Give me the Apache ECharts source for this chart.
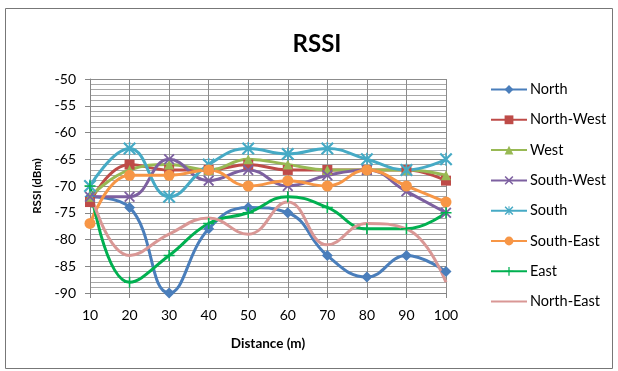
<!DOCTYPE html>
<html><head><meta charset="utf-8">
<script src="https://cdn.jsdelivr.net/npm/echarts@6/dist/echarts.min.js"></script>
<style>html,body{margin:0;padding:0;background:#fff}#c{width:618px;height:371px}</style>
</head><body><div id="c"></div>
<script>
const categories = ['10','20','30','40','50','60','70','80','90','100'];
const north     = [-72,-74,-90,-78,-74,-75,-83,-87,-83,-86];
const northWest = [-73,-66,-67,-67,-66,-67,-67,-67,-67,-69];
const west      = [-72,-67,-66,-67,-65,-66,-67,-67,-67,-68];
const southWest = [-72,-72,-65,-69,-67,-70,-68,-67,-71,-75];
const south     = [-70,-63,-72,-66,-63,-64,-63,-65,-67,-65];
const southEast = [-77,-68,-68,-67,-70,-69,-70,-67,-70,-73];
const east      = [-70,-88,-83,-77,-75,-72,-74,-78,-78,-75];
const northEast = [-71,-83,-79,-76,-79,-73,-81,-77,-78,-88];
const yTicks = [-90,-85,-80,-75,-70,-65,-60,-55,-50];

const XPATH = 'path://M0,1.2 L1.2,0 L5,3.8 L8.8,0 L10,1.2 L6.2,5 L10,8.8 L8.8,10 L5,6.2 L1.2,10 L0,8.8 L3.8,5 Z';
const STAR = 'path://M0,1.2 L1.2,0 L5,3.8 L8.8,0 L10,1.2 L6.2,5 L10,8.8 L8.8,10 L5,6.2 L1.2,10 L0,8.8 L3.8,5 Z M4.4,0 L5.6,0 L5.6,10 L4.4,10 Z';
const PLUS = 'path://M4.3,0 L5.7,0 L5.7,4.3 L10,4.3 L10,5.7 L5.7,5.7 L5.7,10 L4.3,10 L4.3,5.7 L0,5.7 L0,4.3 L4.3,4.3 Z';

const defs = [
  ['North', north, '#4A7EBB', 'diamond', 11],
  ['North-West', northWest, '#BE4B48', 'rect', 10],
  ['West', west, '#98B954', 'triangle', 10],
  ['South-West', southWest, '#7D60A0', XPATH, 11],
  ['South', south, '#46AAC5', STAR, 13],
  ['South-East', southEast, '#F79646', 'circle', 11],
  ['East', east, '#00B050', PLUS, 11],
  ['North-East', northEast, '#D99795', 'none', 0]
];

const series = defs.map(d => ({
  name: d[0], type: 'line', data: d[1], smooth: 0.45,
  symbol: d[3], symbolSize: d[4], showSymbol: d[3] !== 'none',
  lineStyle: {color: d[2], width: 3},
  itemStyle: {color: d[2]},
  animation: false
}));

const FONT = 'Lato, "Open Sans", sans-serif';
const chart = echarts.init(document.getElementById('c'), null, {renderer: 'canvas'});
chart.setOption({
  animation: false,
  backgroundColor: '#fff',
  textStyle: {fontFamily: FONT},
  title: {text: 'RSSI', left: 312, textAlign: 'center', top: 27,
    textStyle: {fontSize: 24, fontWeight: 'bold', color: '#000', fontFamily: FONT}},
  graphic: [{type: 'rect', shape: {x: 5.5, y: 8.5, width: 607, height: 360},
    style: {fill: 'none', stroke: '#777', lineWidth: 1}, z: 100}],
  legend: {
    orient: 'vertical', left: 490, top: 82, padding: 0, itemWidth: 36, itemHeight: 11, itemGap: 15.3,
    textStyle: {fontSize: 14.5, color: '#000', padding: [0, 0, 0, -2], fontFamily: FONT},
    data: defs.map(d => d[3] === 'none' ? {name: d[0], itemStyle: {opacity: 0}} : {name: d[0]})
  },
  grid: {left: 90, right: 172, top: 79, bottom: 78, containLabel: false},
  xAxis: {
    type: 'category', data: categories, boundaryGap: false,
    name: 'Distance (m)', nameLocation: 'middle', nameGap: 44,
    nameTextStyle: {fontWeight: 'bold', fontSize: 13.5, color: '#000'},
    axisLine: {lineStyle: {color: '#868686'}},
    axisTick: {show: true, inside: false, length: 5, lineStyle: {color: '#868686'}},
    axisLabel: {fontSize: 14, color: '#000', margin: 15},
    splitLine: {show: true, lineStyle: {color: '#8c8c8c', width: 1}}
  },
  yAxis: {
    type: 'value', min: yTicks[0], max: yTicks[yTicks.length - 1], interval: 5,
    name: 'RSSI (dBm)', nameLocation: 'middle', nameGap: 47,
    nameTextStyle: {fontWeight: 'bold', fontSize: 11.5, color: '#000'},
    axisLine: {show: true, lineStyle: {color: '#868686'}},
    axisTick: {show: true, length: 5, lineStyle: {color: '#868686'}},
    axisLabel: {fontSize: 14, color: '#000', margin: 14},
    splitLine: {show: true, lineStyle: {color: '#8c8c8c', width: 1}},
    minorTick: {show: false, splitNumber: 5},
    minorSplitLine: {show: true, lineStyle: {color: '#a8a8a8', width: 1}}
  },
  series: series
});
</script></body></html>
